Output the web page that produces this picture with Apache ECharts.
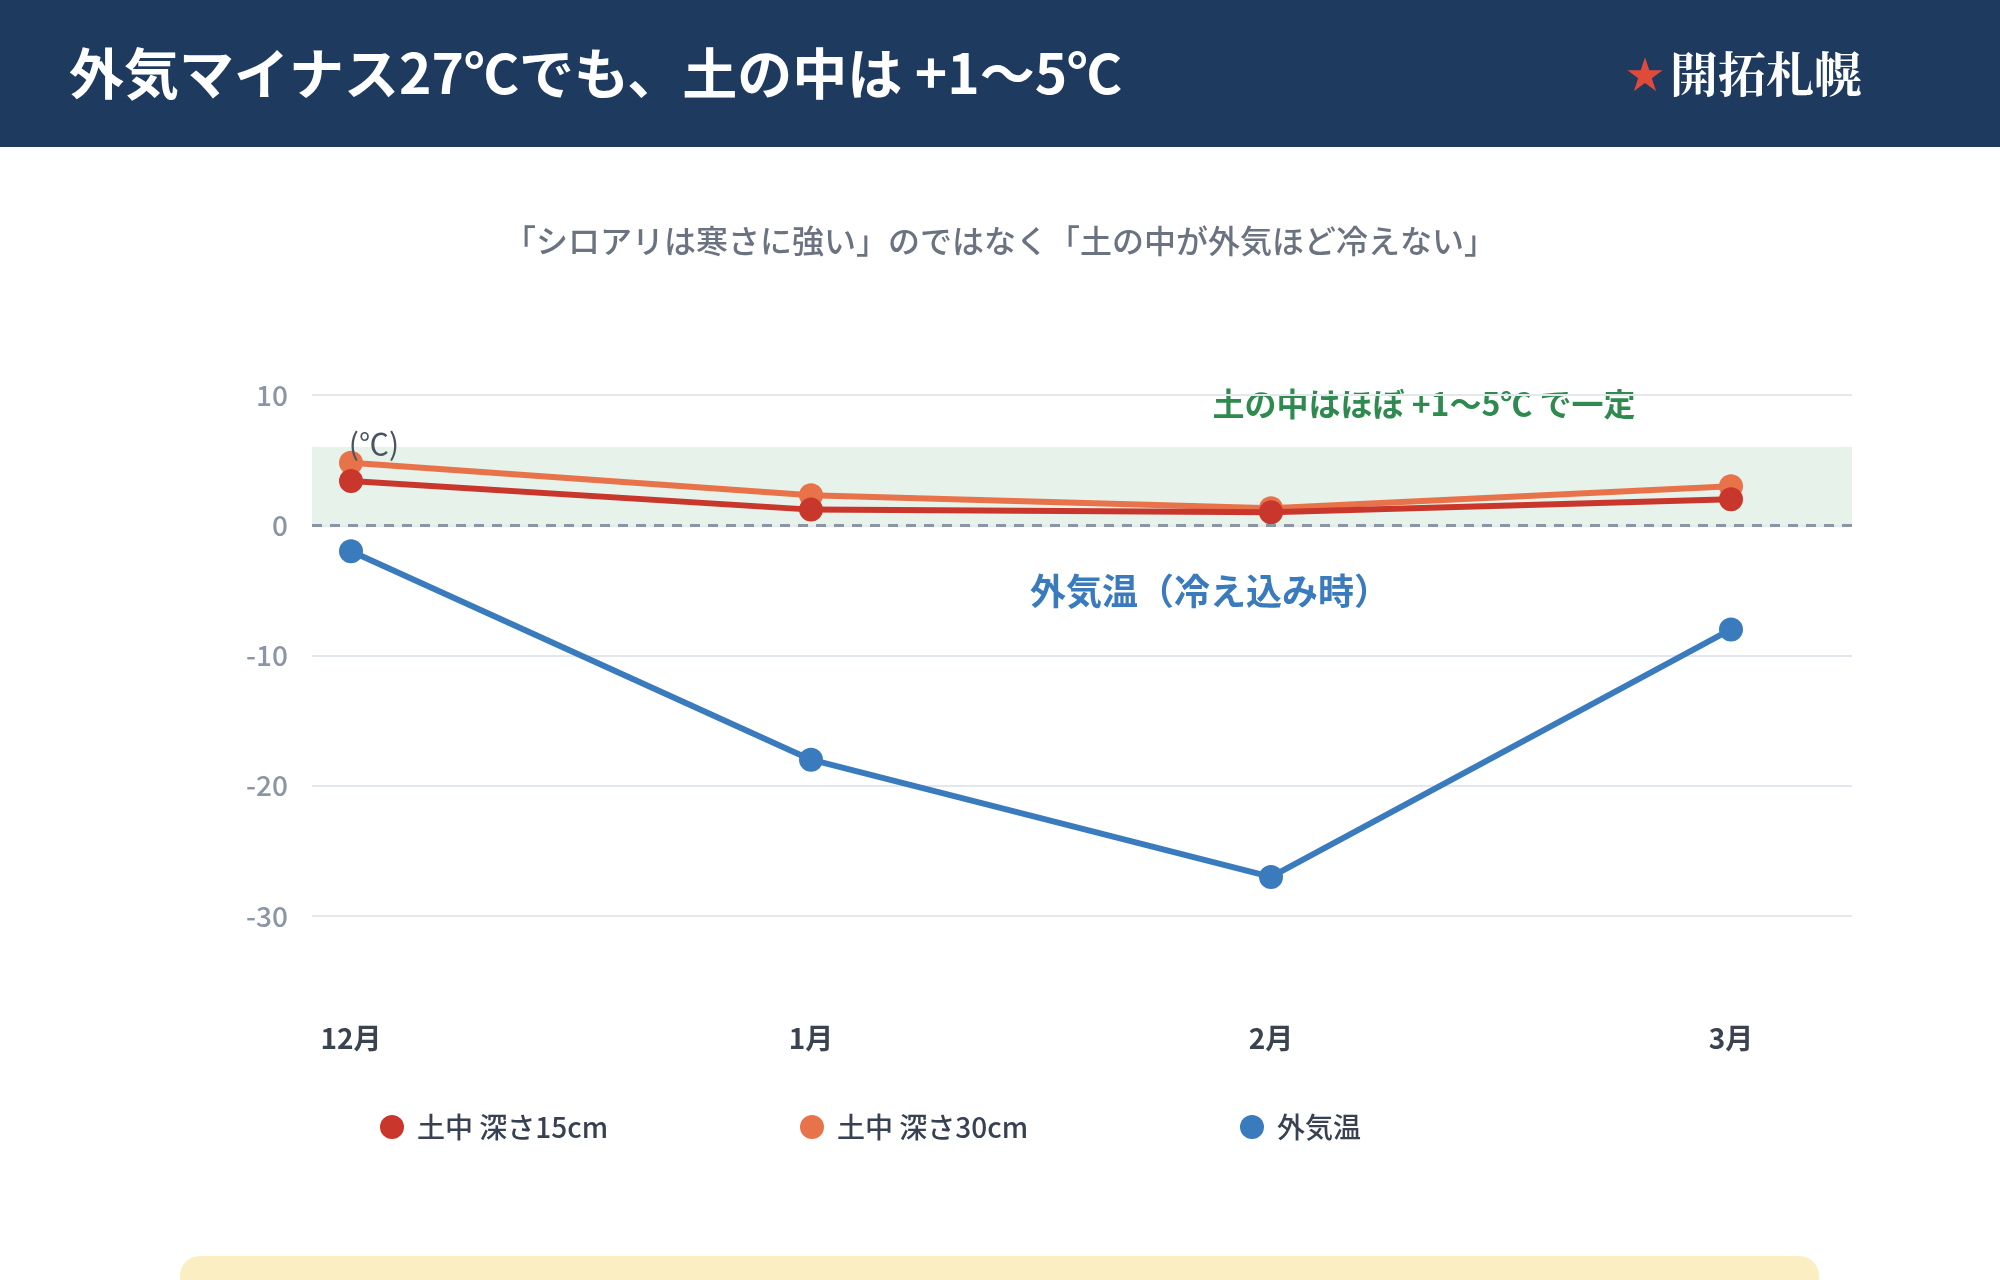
<!DOCTYPE html>
<html>
<head>
<meta charset="utf-8">
<script src="https://cdn.jsdelivr.net/npm/echarts@6/dist/echarts.min.js"></script>
<style>
  html, body { margin: 0; padding: 0; background: #fff; }
  #chart { width: 2000px; height: 1280px; }
</style>
</head>
<body>
<div id="chart"></div>
<script>
// data
const months = ['12月', '1月', '2月', '3月']
const soil15 = [3.4, 1.2, 1.0, 2.0]
const soil30 = [4.8, 2.3, 1.3, 3.0]
const airTemp = [-2, -18, -27, -8]
const yTicks = { min: -30, max: 10, step: 10 }
const band = [0, 6]

const FONT = '"Noto Sans CJK JP", "Noto Sans", sans-serif'

let myChart = echarts.init(document.getElementById('chart'))

const legendBase = {
  top: 1108,
  icon: 'circle',
  itemWidth: 24,
  itemHeight: 24,
  itemGap: 10,
  textStyle: { fontFamily: FONT, fontSize: 28, fontWeight: 500, color: '#374151', padding: [0, 0, 0, 8] }
}

let option = {
  backgroundColor: '#ffffff',
  animation: false,
  textStyle: { fontFamily: FONT },
  graphic: [
    { type: 'rect', shape: { x: 0, y: 0, width: 2000, height: 147 }, style: { fill: '#1f3a5f' } },
    {
      type: 'text', left: 69, top: 46,
      style: { text: '外気マイナス27℃でも、土の中は +1〜5℃', fill: '#ffffff', font: 'bold 55px ' + FONT }
    },
    {
      type: 'text', right: 138, top: 50,
      style: {
        text: '{s|★}{t|開拓札幌}',
        rich: {
          s: { fill: '#e04a3a', fontSize: 38, fontFamily: FONT, padding: [0, 6, 0, 0] },
          t: { fill: '#ffffff', fontSize: 48, fontWeight: 'bold', fontFamily: '"Noto Serif CJK JP", serif' }
        }
      }
    },
    {
      type: 'text', x: 1000, y: 241,
      style: {
        text: '「シロアリは寒さに強い」のではなく「土の中が外気ほど冷えない」',
        fill: '#6b7280', font: '500 32px ' + FONT, textAlign: 'center', textVerticalAlign: 'middle'
      }
    },
    {
      type: 'text', x: 1424, y: 404,
      style: {
        text: '土の中はほぼ +1〜5℃ で一定', fill: '#2e8a4e',
        font: 'bold 32px ' + FONT, textAlign: 'center', textVerticalAlign: 'middle'
      }
    },
    {
      type: 'text', x: 1210, y: 591,
      style: {
        text: '外気温（冷え込み時）', fill: '#3a7bbd',
        font: 'bold 36px ' + FONT, textAlign: 'center', textVerticalAlign: 'middle'
      }
    },
    {
      type: 'text', x: 374, y: 444, z: 10,
      style: {
        text: '(℃)', fill: '#4a5361',
        font: '30px ' + FONT, textAlign: 'center', textVerticalAlign: 'middle'
      }
    },
    {
      type: 'rect', shape: { x: 180, y: 1256, width: 1639, height: 80, r: 20 },
      style: { fill: '#faeec2' }
    }
  ],
  legend: [
    Object.assign({ left: 375, data: ['土中 深さ15cm'] }, legendBase),
    Object.assign({ left: 795, data: ['土中 深さ30cm'] }, legendBase),
    Object.assign({ left: 1235, data: ['外気温'] }, legendBase)
  ],
  grid: [
    { left: 312, right: 148, top: 395, bottom: 364 },
    { left: 351, right: 269, top: 395, bottom: 364 }
  ],
  xAxis: [
    { gridIndex: 0, type: 'value', min: 0, max: 1, show: false },
    {
      gridIndex: 1, type: 'category', data: months, boundaryGap: false,
      axisLine: { show: false }, axisTick: { show: false },
      axisLabel: { margin: 108, fontSize: 28, fontWeight: 'bold', color: '#3b4250', fontFamily: FONT }
    }
  ],
  yAxis: [
    {
      gridIndex: 0, type: 'value', min: yTicks.min, max: yTicks.max, interval: yTicks.step,
      axisLine: { show: false }, axisTick: { show: false },
      axisLabel: { margin: 24, fontSize: 28, fontWeight: 500, color: '#8b95a5', fontFamily: FONT },
      splitLine: { lineStyle: { color: '#e3e8ef', width: 2 } }
    },
    {
      gridIndex: 1, type: 'value', min: yTicks.min, max: yTicks.max, interval: yTicks.step,
      show: false, splitLine: { show: false }
    }
  ],
  series: [
    {
      // background band and zero line across the full plot width
      type: 'line', xAxisIndex: 0, yAxisIndex: 0, data: [], silent: true,
      markArea: {
        silent: true,
        itemStyle: { color: '#e6f2ea' },
        data: [[{ yAxis: band[0] }, { yAxis: band[1] }]]
      },
      markLine: {
        silent: true, symbol: 'none',
        label: { show: false },
        lineStyle: { color: '#8b95a5', width: 3, type: [10, 8] },
        data: [{ yAxis: 0 }]
      }
    },
    {
      name: '土中 深さ30cm', type: 'line', xAxisIndex: 1, yAxisIndex: 1, data: soil30, z: 3,
      symbol: 'circle', symbolSize: 24,
      lineStyle: { color: '#e8734a', width: 6 }, itemStyle: { color: '#e8734a' }
    },
    {
      name: '土中 深さ15cm', type: 'line', xAxisIndex: 1, yAxisIndex: 1, data: soil15, z: 4,
      symbol: 'circle', symbolSize: 24,
      lineStyle: { color: '#c9372c', width: 6 }, itemStyle: { color: '#c9372c' }
    },
    {
      name: '外気温', type: 'line', xAxisIndex: 1, yAxisIndex: 1, data: airTemp, z: 3,
      symbol: 'circle', symbolSize: 24,
      lineStyle: { color: '#3a7bbd', width: 6 }, itemStyle: { color: '#3a7bbd' }
    }
  ]
}

option && myChart.setOption(option)
</script>
</body>
</html>
